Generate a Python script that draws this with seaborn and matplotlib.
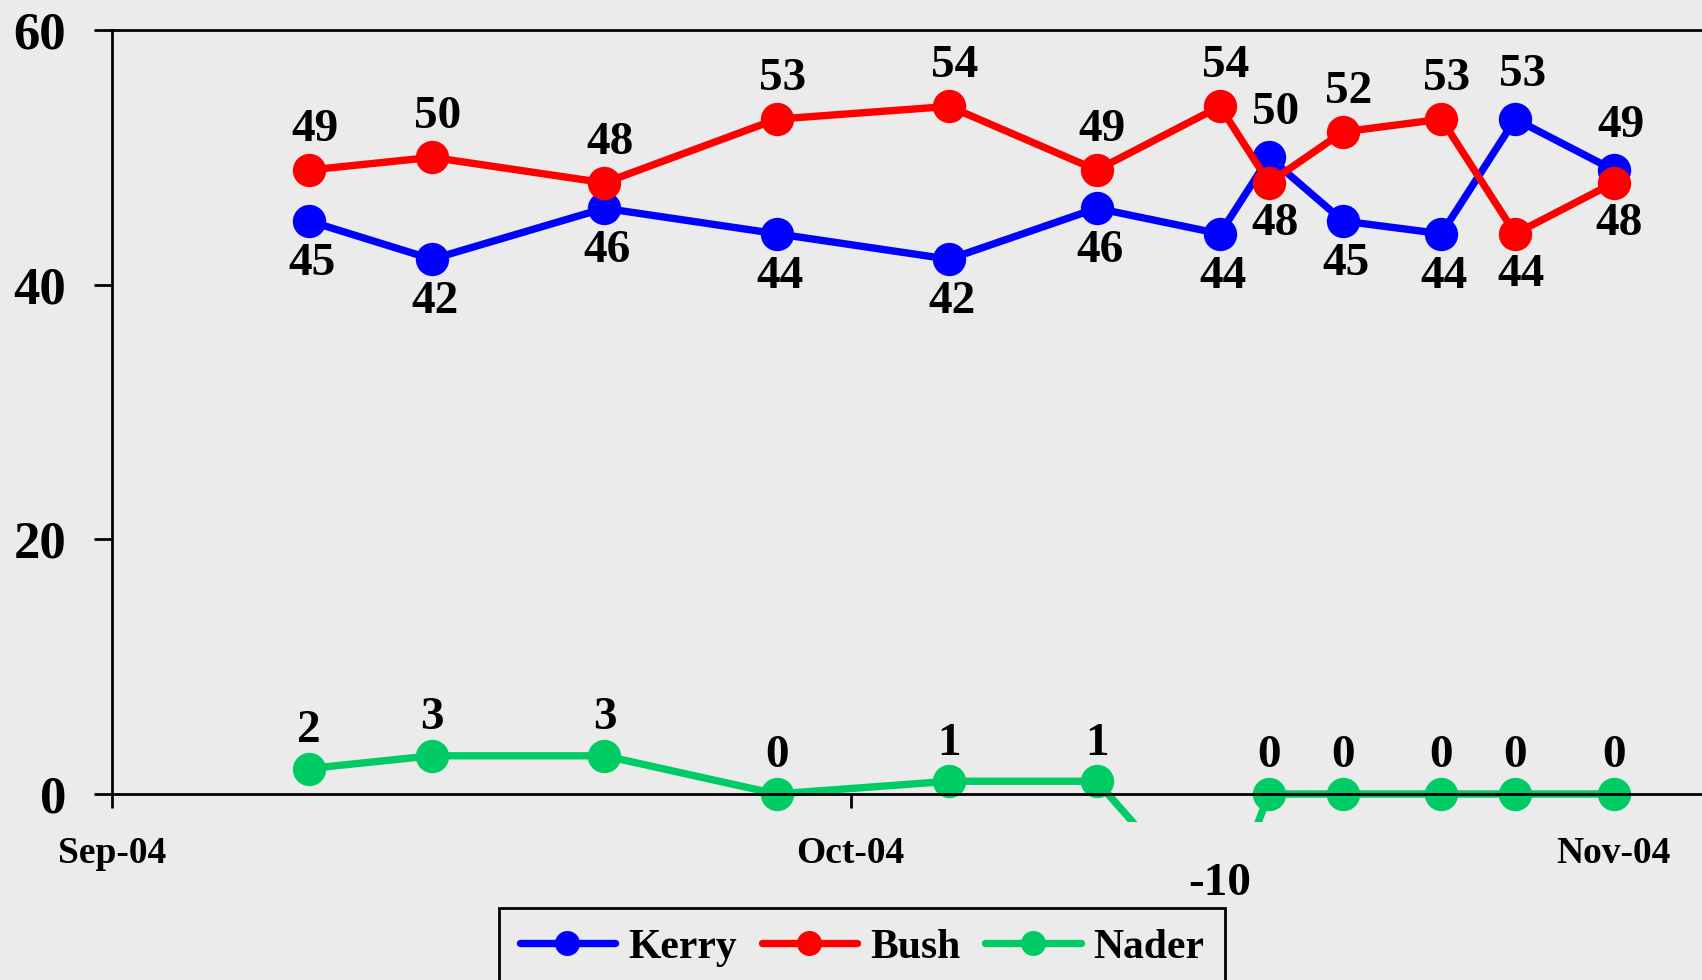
import matplotlib
matplotlib.use("Agg")
import matplotlib.pyplot as plt
import matplotlib.dates as mdates
import seaborn as sns
import pandas as pd

dates = ["2004-09-09", "2004-09-14", "2004-09-21", "2004-09-28", "2004-10-05", "2004-10-11",
         "2004-10-16", "2004-10-18", "2004-10-21", "2004-10-25", "2004-10-28", "2004-11-01"]
kerry = [45, 42, 46, 44, 42, 46, 44, 50, 45, 44, 53, 49]
bush = [49, 50, 48, 53, 54, 49, 54, 48, 52, 53, 44, 48]
nader = [2, 3, 3, 0, 1, 1, -10, 0, 0, 0, 0, 0]
series_names = ["Kerry", "Bush", "Nader"]
colors = {"Kerry": "#0000FF", "Bush": "#FF0000", "Nader": "#00CC66"}
tick_dates = ["2004-09-01", "2004-10-01", "2004-11-01"]
y_ticks = [0, 20, 40, 60]

bg = "#EBEBEB"
sns.set_theme(style="white")
plt.rcParams["font.family"] = ["Liberation Serif", "DejaVu Serif"]
plt.rcParams["font.weight"] = "bold"
plt.rcParams["text.color"] = "black"
plt.rcParams["axes.labelcolor"] = "black"
plt.rcParams["xtick.color"] = "black"
plt.rcParams["ytick.color"] = "black"

d = pd.to_datetime(dates)
df = pd.concat([
    pd.DataFrame({"date": d, "value": kerry, "candidate": "Kerry"}),
    pd.DataFrame({"date": d, "value": bush, "candidate": "Bush"}),
    pd.DataFrame({"date": d, "value": nader, "candidate": "Nader"}),
])

fig = plt.figure(figsize=(17.02, 9.80), dpi=100, facecolor=bg)
ax = fig.add_axes([112 / 1702, 1 - 822 / 980, 1 - 112 / 1702, (822 - 30) / 980])
ax.set_facecolor(bg)

sns.lineplot(data=df, x="date", y="value", hue="candidate", hue_order=series_names,
             palette=colors, marker="o", markersize=24, markeredgewidth=0,
             linewidth=5.3, ax=ax, legend=True, estimator=None, sort=False)

ax.set_xlim(pd.Timestamp("2004-09-01"), pd.Timestamp("2004-11-04 14:00"))
ax.set_ylim(-2.2, 60)
ax.set_xlabel("")
ax.set_ylabel("")

# data labels
lab_font = dict(fontsize=34, fontweight="bold", ha="center", va="center", color="black",
                annotation_clip=False, textcoords="offset points")
for i, dt in enumerate(d):
    k, b = kerry[i], bush[i]
    if b >= k:
        ax.annotate(str(b), (dt, b), xytext=(4, 29), **lab_font)
        ax.annotate(str(k), (dt, k), xytext=(2, -31), **lab_font)
    else:
        ax.annotate(str(k), (dt, k), xytext=(5, 32), **lab_font)
        ax.annotate(str(b), (dt, b), xytext=(4, -30), **lab_font)
    ax.annotate(str(nader[i]), (dt, nader[i]), xytext=(0, 27), **lab_font)

# axes styling
ax.spines["right"].set_visible(False)
ax.spines["bottom"].set_position(("data", 0))
ax.spines["left"].set_bounds(0, 60)
for s in ["left", "bottom", "top"]:
    ax.spines[s].set_color("black")
    ax.spines[s].set_linewidth(2)

ax.set_yticks(y_ticks)
ax.set_yticklabels([str(v) for v in y_ticks], fontsize=38, fontweight="bold", color="black")
ax.set_xticks(pd.to_datetime(tick_dates))
ax.xaxis.set_major_formatter(mdates.DateFormatter("%b-%y"))
for lab in ax.get_xticklabels():
    lab.set_fontsize(27)
    lab.set_fontweight("bold")
    lab.set_color("black")
ax.tick_params(axis="y", direction="out", length=13, width=2, pad=20, colors="black", left=True)
ax.tick_params(axis="x", direction="out", length=10, width=2, pad=20, colors="black", bottom=True)

handles, labels = ax.get_legend_handles_labels()
ax.get_legend().remove()
leg = fig.legend(handles, labels, loc="upper center", bbox_to_anchor=(862 / 1702, 1 - 908 / 980),
                 ncol=3, frameon=True, fancybox=False, edgecolor="black", facecolor=bg,
                 prop={"family": "Liberation Serif", "weight": "bold", "size": 30},
                 handlelength=2.3, handletextpad=0.3, columnspacing=0.6, borderpad=0.5,
                 borderaxespad=0, markerscale=0.75, labelcolor="black")
leg.get_frame().set_linewidth(2)
leg.get_frame().set_alpha(1)

fig.savefig("out.png", dpi=100, facecolor=bg)
